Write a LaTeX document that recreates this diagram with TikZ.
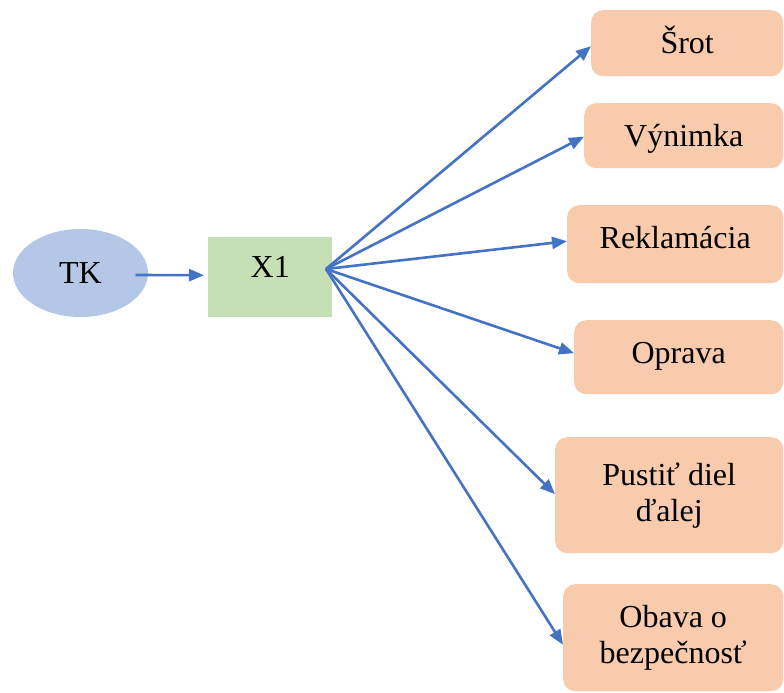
\documentclass[tikz,border=0pt]{standalone}
\usepackage{fontspec}
\setmainfont{Liberation Serif}
\usetikzlibrary{arrows.meta,calc,shapes.geometric}

\definecolor{tkblue}{HTML}{B4C7E7}
\definecolor{xgreen}{HTML}{C5E0B4}
\definecolor{outpeach}{HTML}{F8CBAD}
\definecolor{flowblue}{HTML}{4472C4}

\begin{document}
\begin{tikzpicture}[x=1pt,y=-1pt,
  every node/.style={font=\fontsize{32}{36}\selectfont, inner sep=0pt},
  outcome/.style={fill=outpeach, rounded corners=12pt, anchor=north west, align=center},
  oneline/.style={text height=21pt, text depth=#1},
  flow/.style={draw=flowblue, line width=2.6pt, -{Triangle[length=15pt,width=12pt]}}]

  \useasboundingbox (0,0) rectangle (784,693);

  % source and decision point
  \node[ellipse, fill=tkblue, minimum width=135pt, minimum height=88pt] (tk) at (80.5,273) {TK};
  \node[fill=xgreen, anchor=north west, minimum width=124pt, minimum height=80pt,
        oneline=20pt] (x1) at (208,237) {X1};
  \coordinate (hub) at (326,269);

  % possible outcomes
  \node[outcome, oneline=1pt,  minimum width=192pt, minimum height=66pt]  (srot)  at (591,10)  {Šrot};
  \node[outcome, oneline=0pt,  minimum width=199pt, minimum height=65pt]  (vyn)   at (584,103) {Výnimka};
  \node[outcome, oneline=13pt, minimum width=216pt, minimum height=78pt]  (rekl)  at (567,205) {Reklamácia};
  \node[outcome, oneline=9pt,  minimum width=209pt, minimum height=74pt]  (oprava) at (574,320) {Oprava};
  \node[outcome, minimum width=228pt, minimum height=116pt] (pustit) at (555,437) {Pustiť diel\\ďalej};
  \node[outcome, minimum width=220pt, minimum height=107pt] (obava)  at (563,584) {Obava o\\bezpečnosť};

  % connectors
  \draw[flow] ($(tk.center)+(55,2)$) -- ($(x1.west)+(-4,-2)$);
  \draw[flow] (hub) -- ($(srot.west)+(0,3)$);
  \draw[flow] (hub) -- ($(vyn.west)+(0,1)$);
  \draw[flow] (hub) -- ($(rekl.west)+(0,-3)$);
  \draw[flow] (hub) -- ($(oprava.west)+(0,-4)$);
  \draw[flow] (hub) -- ($(pustit.west)+(0,-1)$);
  \draw[flow] (hub) -- ($(obava.west)+(0,7)$);
\end{tikzpicture}
\end{document}
